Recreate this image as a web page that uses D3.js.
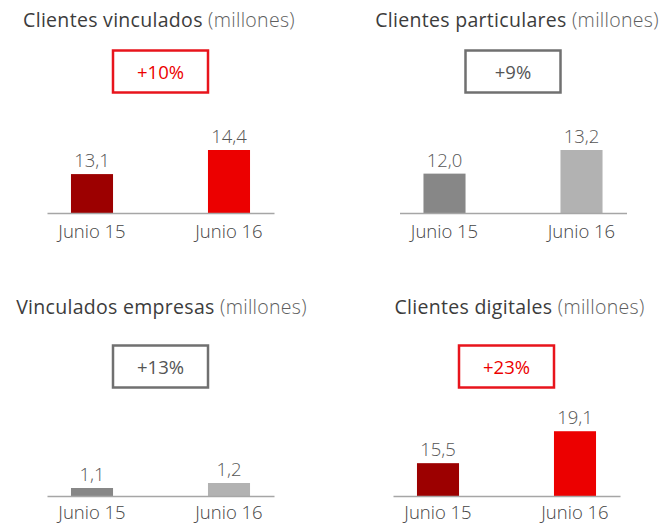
<!DOCTYPE html>
<html>
<head>
<meta charset="utf-8">
<script src="https://cdn.jsdelivr.net/npm/d3@7"></script>
<style>
  body { margin: 0; background: #fff; }
  svg { font-family: "Open Sans", sans-serif; }
</style>
</head>
<body>
<svg id="chart" width="667" height="524"></svg>
<script>
// data
const titles = ["Clientes vinculados", "Clientes particulares", "Vinculados empresas", "Clientes digitales"];
const unit = "(millones)";
const periods = ["Junio 15", "Junio 16"];
const june15 = [13.1, 12.0, 1.1, 15.5];
const june16 = [14.4, 13.2, 1.2, 19.1];
const growth = ["+10%", "+9%", "+13%", "+23%"];
const highlight = [true, false, false, true];
// the original axes are cut, not zero based
const axisDomain = [[11, 14.4], [10, 13.2], [0.94, 2.2], [11.8, 18.9]];

// layout
const centerX = [160.5, 513, 160.5, 506.5];
const titleX = [159, 517, 161.5, 519.5];
const titleY = [27, 27, 314, 314];
const boxY = [50.5, 50.5, 345.5, 345.5];
const baseY = [213, 213, 496, 496];
const labelPad = [11.5, 11.5, 9.5, 9.5];
const axisW = 227, barH = 63;
const reds = ["#9c0000", "#ec0000"], grays = ["#878787", "#b2b2b2"];

const svg = d3.select("#chart");

titles.forEach((t, i) => {
  const g = svg.append("g");
  const cx = centerX[i];
  const colors = highlight[i] ? reds : grays;
  const by = baseY[i];

  let title = g.append("text")
    .attr("x", titleX[i]).attr("y", titleY[i])
    .attr("text-anchor", "middle")
    .style("font-size", "19.5px")
    .style("letter-spacing", "0.3px");
  title.append("tspan").attr("fill", "#3c3c3c").text(t + " ");
  title.append("tspan").attr("fill", "#5e5e5e").style("font-weight", 300).text(unit);

  // growth box
  g.append("rect")
    .attr("x", cx - 47.5).attr("y", boxY[i])
    .attr("width", 95).attr("height", 42)
    .attr("fill", "none")
    .attr("stroke", highlight[i] ? "#e8141c" : "#707070")
    .attr("stroke-width", 2.5);
  g.append("text")
    .attr("x", cx).attr("y", boxY[i] + 28.5)
    .attr("text-anchor", "middle")
    .attr("fill", highlight[i] ? "#ec0000" : "#555")
    .style("font-size", "18.5px")
    .style("font-weight", 500)
    .text(growth[i]);

  let x = d3.scaleBand()
    .domain(periods)
    .range([cx - axisW / 2, cx + axisW / 2])
    .paddingInner(0.693)
    .paddingOuter(0.175);
  let y = d3.scaleLinear()
    .domain(axisDomain[i])
    .range([by, by - barH]);

  let vals = [june15[i], june16[i]];

  g.selectAll("rect.bar")
    .data(vals).enter()
    .append("rect")
    .attr("class", "bar")
    .attr("x", (d, j) => x(periods[j]))
    .attr("y", d => y(d))
    .attr("width", x.bandwidth())
    .attr("height", d => by - y(d))
    .attr("fill", (d, j) => colors[j]);

  g.selectAll("text.val")
    .data(vals).enter()
    .append("text")
    .attr("class", "val")
    .attr("x", (d, j) => x(periods[j]) + x.bandwidth() / 2)
    .attr("y", d => y(d) - 7)
    .attr("text-anchor", "middle")
    .attr("fill", "#555")
    .style("font-size", "18.5px")
    .style("font-weight", 300)
    .text(d => d.toFixed(1).replace(".", ","));

  let axis = g.append("g")
    .attr("transform", `translate(0,${by})`)
    .call(d3.axisBottom(x).tickSize(0).tickPadding(labelPad[i]));
  axis.select(".domain").attr("stroke", "#a6a6a6").attr("stroke-width", 1.5);
  axis.selectAll("text")
    .attr("fill", "#444")
    .style("font-family", "'Open Sans', sans-serif")
    .style("font-size", "18.5px")
    .style("font-weight", 300);
});
</script>
</body>
</html>
